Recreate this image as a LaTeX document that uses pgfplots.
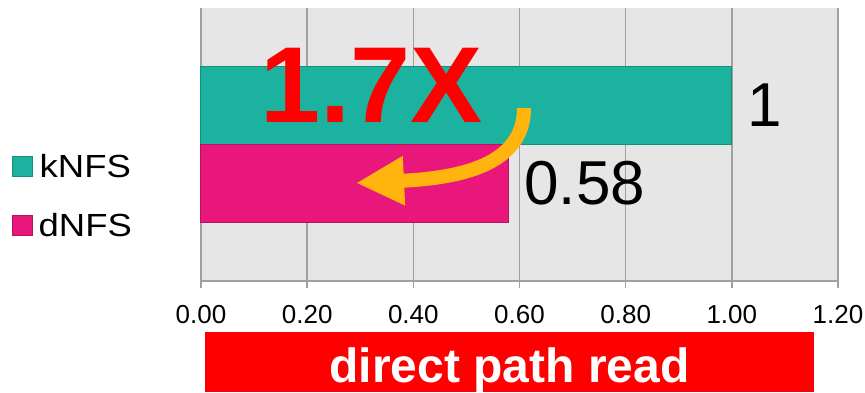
\documentclass[border=0pt]{standalone}
\usepackage{pgfplots}
\pgfplotsset{compat=1.18}
\usepackage{fontspec}
\setmainfont{Liberation Sans}
\newfontfamily\legfont[FakeStretch=1.14]{Liberation Sans}
\usetikzlibrary{arrows.meta}
\definecolor{teal1}{HTML}{1CB2A0}
\definecolor{teal2}{HTML}{15907F}
\definecolor{pink1}{HTML}{E9177B}
\definecolor{pink2}{HTML}{B5125F}
\definecolor{gridgray}{HTML}{A0A0A0}
\definecolor{bggray}{HTML}{E6E6E6}
\definecolor{arrowor}{HTML}{FFB40E}
\begin{document}
\begin{tikzpicture}
\useasboundingbox (0pt,0pt) rectangle (865pt,-392pt);
\begin{axis}[
  at={(201pt,-281pt)}, anchor=south west,
  scale only axis, width=637pt, height=273pt,
  xbar, bar width=1, bar shift=0pt,
  xmin=0, xmax=1.2, ymin=-1.75, ymax=1.75,
  axis x line*=bottom, axis y line*=left,
  axis line style={gridgray, line width=1.5pt},
  xtick={0,0.2,0.4,0.6,0.8,1.0,1.2},
  xticklabels={0.00,0.20,0.40,0.60,0.80,1.00,1.20},
  ytick=\empty,
  xmajorgrids, major grid style={gridgray, line width=1.5pt},
  tick style={gridgray, line width=1.5pt},
  major tick length=7pt, tick align=outside,
  xticklabel style={font=\fontsize{26}{26}\selectfont, anchor=base, yshift=-35pt, text=black},
  axis background/.style={fill=bggray},
  nodes near coords,
  point meta=explicit symbolic,
  nodes near coords style={font=\fontsize{62}{62}\selectfont, anchor=west, inner sep=0pt, xshift=15pt, text=black},
  legend image code/.code={\draw[#1, line width=1pt] (0pt,-10pt) rectangle (20pt,10pt);},
  legend style={at={(axis description cs:-0.2975,0.4652)}, anchor=north west, draw=none, fill=none,
    inner sep=0pt, row sep=34pt, font=\legfont\fontsize{32}{32}\selectfont,
    nodes={inner sep=0pt},
    /tikz/every odd column/.append style={column sep=6pt}},
  clip=false,
]
\addplot[fill=teal1, draw=teal2, line width=1pt] coordinates {(1,0.5) [1]};
\addplot[fill=pink1, draw=pink2, line width=1pt] coordinates {(0.58,-0.5) [0.58]};
\legend{kNFS,dNFS}
\end{axis}
\node[anchor=base west, inner sep=0pt, text=red, font=\bfseries\fontsize{108}{108}\selectfont] at (260pt,-122pt) {1.7X};
\draw[arrowor, line width=14pt, -{Triangle[length=48pt,width=46pt]}] (524pt,-108pt) .. controls (524pt,-165pt) and (460pt,-178pt) .. (356pt,-183pt);
\fill[red] (205pt,-332pt) rectangle (814pt,-392pt);
\node[text=white, inner sep=0pt, font=\bfseries\fontsize{48}{48}\selectfont, anchor=base] at (509.5pt,-382pt) {direct path read};
\end{tikzpicture}
\end{document}
